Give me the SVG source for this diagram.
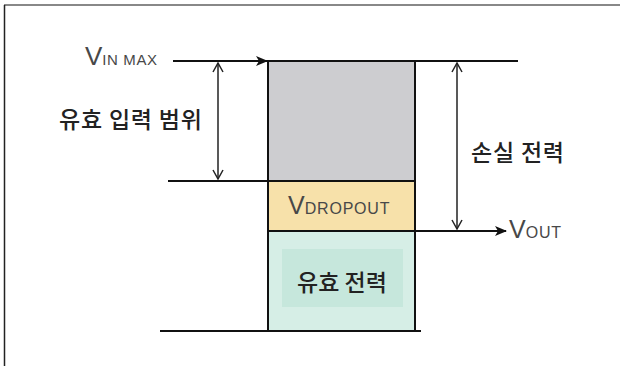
<svg xmlns="http://www.w3.org/2000/svg" width="620" height="366" viewBox="0 0 620 366">
<defs>
<style>
.ln{stroke:#111;stroke-width:2;fill:none}
.dim{stroke:#222;stroke-width:1.5;fill:none}
.kr{font-family:"Noto Sans CJK KR","Noto Sans",sans-serif;font-size:23px;fill:#222;font-weight:500}
.v{font-family:"Liberation Sans","Noto Sans",sans-serif;fill:#484848}
.box{stroke:#111;stroke-width:2}
</style>
<marker id="arr" markerWidth="12" markerHeight="10" refX="11" refY="5" orient="auto" markerUnits="userSpaceOnUse">
<path d="M0,0 L12,5 L0,10 L3,5 Z" fill="#111"/>
</marker>
<marker id="open" markerWidth="12" markerHeight="12" refX="10" refY="6" orient="auto-start-reverse" markerUnits="userSpaceOnUse">
<path d="M1,1 L10,6 L1,11" fill="none" stroke="#222" stroke-width="1.5"/>
</marker>
</defs>
<rect width="620" height="366" fill="#fff"/>
<g id="frame">
<line x1="4" y1="5" x2="620" y2="5" stroke="#888" stroke-width="2"/>
<line x1="4.5" y1="5" x2="4.5" y2="366" stroke="#222" stroke-width="1.5"/>
</g>
<g id="loss-block">
<rect x="268" y="61" width="147" height="120" fill="#cdcdd0" class="box"/>
</g>
<g id="dropout-block">
<rect x="268" y="181" width="147" height="50" fill="#f7e1aa" class="box"/>
<text x="288" y="214" class="v" font-size="25">V<tspan font-size="16" letter-spacing="0.8">DROPOUT</tspan></text>
</g>
<g id="useful-block">
<rect x="268" y="231" width="147" height="100" fill="#d6eee6" class="box"/>
<rect x="282" y="249" width="121" height="58" fill="#c6e7dc"/>
<text x="342" y="291" class="kr" text-anchor="middle">유효 전력</text>
</g>
<g id="connectors">
<line x1="173" y1="61" x2="267" y2="61" class="ln" marker-end="url(#arr)"/>
<line x1="415" y1="61" x2="518" y2="61" class="ln"/>
<line x1="168" y1="181" x2="268" y2="181" class="ln"/>
<line x1="160" y1="331" x2="421" y2="331" class="ln"/>
<line x1="415" y1="231" x2="506" y2="231" class="ln" marker-end="url(#arr)"/>
<line x1="218" y1="63" x2="218" y2="179" class="dim" marker-start="url(#open)" marker-end="url(#open)"/>
<line x1="457" y1="63" x2="457" y2="229" class="dim" marker-start="url(#open)" marker-end="url(#open)"/>
</g>
<g id="labels">
<text x="85" y="65" class="v" font-size="26">V<tspan font-size="15" letter-spacing="0.6">IN MAX</tspan></text>
<text x="59" y="128" class="kr" letter-spacing="0.8">유효 입력 범위</text>
<text x="471" y="161" class="kr" letter-spacing="0.8">손실 전력</text>
<text x="509" y="238" class="v" font-size="25">V<tspan font-size="16" letter-spacing="0.8">OUT</tspan></text>
</g>
</svg>
